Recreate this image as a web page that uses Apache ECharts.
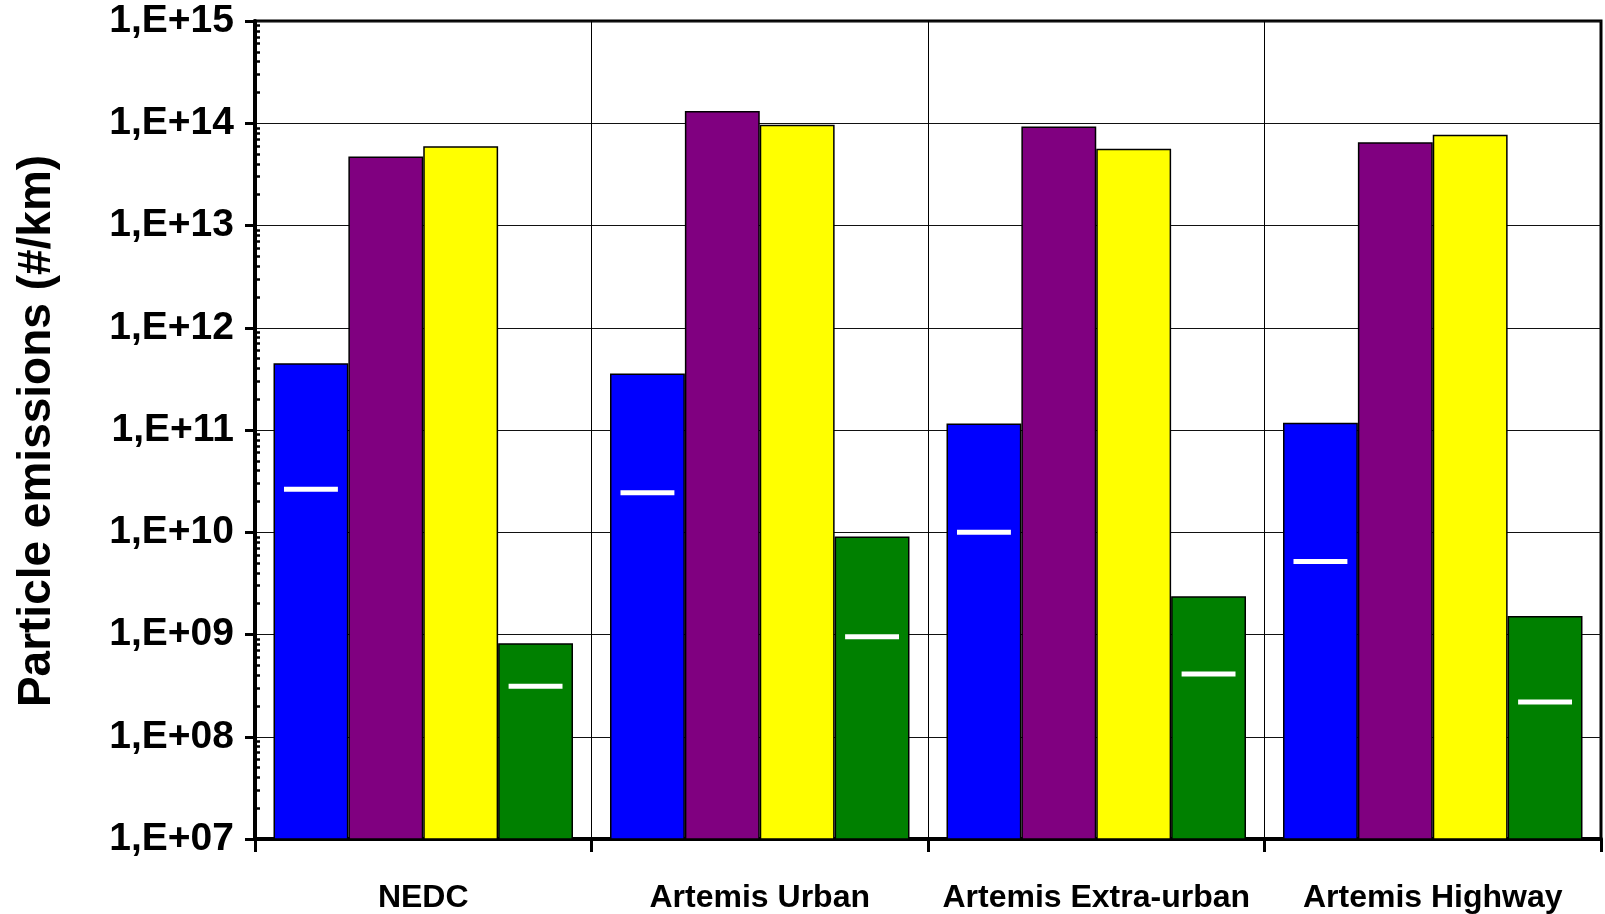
<!DOCTYPE html>
<html>
<head>
<meta charset="utf-8">
<script src="https://cdn.jsdelivr.net/npm/echarts@6/dist/echarts.min.js"></script>
<style>
html,body{margin:0;padding:0;background:#fff;}
#chart{width:1605px;height:914px;}
</style>
</head>
<body>
<div id="chart"></div>
<script>
const categories = ['NEDC', 'Artemis Urban', 'Artemis Extra-urban', 'Artemis Highway'];
const blueValues   = [4.5e11, 3.57e11, 1.16e11, 1.18e11];
const purpleValues = [4.74e13, 1.32e14, 9.3e13, 6.53e13];
const yellowValues = [5.96e13, 9.65e13, 5.62e13, 7.7e13];
const greenValues  = [8.2e8, 9.1e9, 2.36e9, 1.52e9];
const blueMarks    = [2.63e10, 2.44e10, 1.0e10, 5.18e9];
const greenMarks   = [3.11e8, 9.5e8, 4.1e8, 2.19e8];
const yTickExponents = [7, 8, 9, 10, 11, 12, 13, 14, 15];
const yTitle = 'Particle emissions (#/km)';

const expMin = yTickExponents[0];
const expMax = yTickExponents[yTickExponents.length - 1];
const minorTickExps = [];
for (let e = expMin; e < expMax; e++) {
  for (let m = 2; m <= 9; m++) minorTickExps.push(e + Math.log10(m));
}

const barCategoryGap = 0.11;
const nBars = 4;
const markData = [];
blueMarks.forEach((v, i) => markData.push([i, v, 0]));
greenMarks.forEach((v, i) => markData.push([i, v, 3]));

const barStyle = (color) => ({ color: color, borderColor: '#000', borderWidth: 1.5 });
const fontFam = '"Liberation Sans", Arial, sans-serif';

const chart = echarts.init(document.getElementById('chart'));
chart.setOption({
  animation: false,
  backgroundColor: '#fff',
  grid: { left: 255, right: 4, top: 21, bottom: 74, show: true, borderColor: '#000', borderWidth: 3, backgroundColor: 'transparent' },
  xAxis: {
    type: 'category',
    data: categories,
    boundaryGap: true,
    axisLine: { lineStyle: { color: '#000', width: 4 } },
    axisTick: { show: true, alignWithLabel: false, length: 13, lineStyle: { color: '#000', width: 3 } },
    axisLabel: { margin: 43, fontSize: 32, fontWeight: 'bold', color: '#000', fontFamily: fontFam, interval: 0 },
    splitLine: { show: true, interval: 0, lineStyle: { color: '#000', width: 1 } }
  },
  yAxis: [
    {
      type: 'log',
      logBase: 10,
      min: Math.pow(10, expMin),
      max: Math.pow(10, expMax),
      axisLine: { show: true, lineStyle: { color: '#000', width: 4 } },
      axisTick: { show: true, length: 10, lineStyle: { color: '#000', width: 3 } },
      axisLabel: {
        margin: 21, fontSize: 39, fontWeight: 'bold', color: '#000', fontFamily: fontFam,
        formatter: (v) => '1,E+' + String(Math.round(Math.log10(v))).padStart(2, '0')
      },
      splitLine: { show: true, lineStyle: { color: '#111', width: 1 } }
    },
    {
      type: 'value',
      min: expMin,
      max: expMax,
      position: 'left',
      axisLine: { show: false },
      axisLabel: { show: false },
      splitLine: { show: false },
      axisTick: { show: true, inside: true, length: 5, customValues: minorTickExps, lineStyle: { color: '#000', width: 2.5 } }
    }
  ],
  graphic: [{
    type: 'text',
    x: 37, y: 431,
    rotation: Math.PI / 2,
    style: { text: yTitle, fontSize: 46, fontWeight: 'bold', fill: '#000', fontFamily: fontFam, align: 'center', verticalAlign: 'middle' }
  }],
  series: [
    { type: 'bar', data: blueValues, itemStyle: barStyle('#0000FF'), barGap: '0%', barCategoryGap: (barCategoryGap * 100) + '%' },
    { type: 'bar', data: purpleValues, itemStyle: barStyle('#800080') },
    { type: 'bar', data: yellowValues, itemStyle: barStyle('#FFFF00') },
    { type: 'bar', data: greenValues, itemStyle: barStyle('#008000') },
    {
      type: 'custom',
      data: markData,
      z: 10,
      renderItem: function (params, api) {
        const idx = api.value(0);
        const val = api.value(1);
        const slot = api.value(2);
        const p = api.coord([idx, val]);
        const band = api.size([1, 0], [idx, val])[0];
        const bw = band * (1 - barCategoryGap) / nBars;
        const cx = p[0] - band * (1 - barCategoryGap) / 2 + (slot + 0.5) * bw;
        const w = bw * 0.72;
        const h = 5;
        return { type: 'rect', shape: { x: cx - w / 2, y: p[1] - h / 2, width: w, height: h }, style: { fill: '#fff' } };
      }
    }
  ]
});
</script>
</body>
</html>
